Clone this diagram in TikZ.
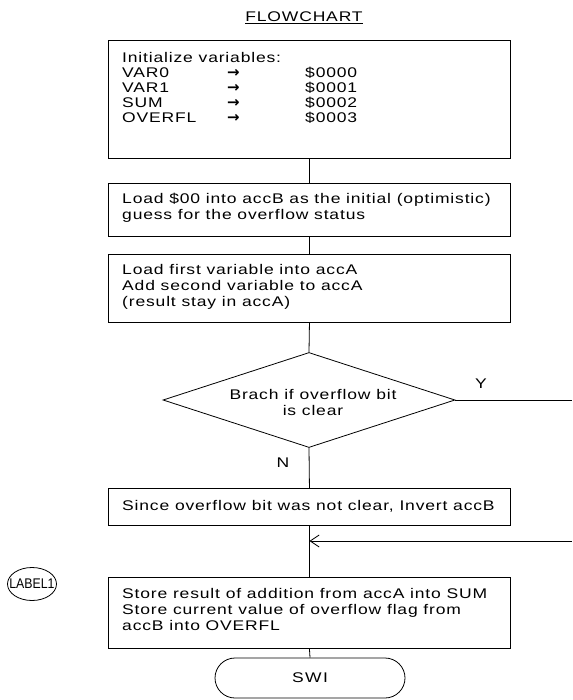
\documentclass[tikz,border=0pt]{standalone}
\usepackage{fontspec}
\setmainfont{Liberation Sans}[FakeStretch=1.25, LetterSpace=6]
\newfontfamily\arrowfont{DejaVu Sans}
\newfontfamily\labelfont{Liberation Sans}[FakeStretch=0.88]
\usetikzlibrary{shapes.geometric,arrows.meta}
\newcommand{\vrow}[2]{\makebox[105pt][l]{#1}\makebox[78pt][l]{\arrowfont\bfseries\fontsize{15}{15}\selectfont →}\$#2}
\begin{document}
\begin{tikzpicture}[x=1pt,y=-1pt,
  box/.style={draw, line width=0.9pt, minimum width=402pt, anchor=north west, inner sep=0pt},
  txt/.style={anchor=north west, inner sep=0pt, align=left, font=\fontsize{14}{16}\selectfont},
  lbl/.style={inner sep=0pt, font=\fontsize{14}{16}\selectfont},
  conn/.style={line width=0.8pt}]
\useasboundingbox (0,0) rectangle (572,700);
% title
\node[lbl] (title) at (304,18) {\underline{FLOWCHART}};
% boxes
\node[box, minimum height=118pt] (b1) at (108,40) {};
\node[box, minimum height=53pt] (b2) at (108,183) {};
\node[box, minimum height=68pt] (b3) at (108,254) {};
\node[box, minimum height=37pt] (b4) at (108,488) {};
\node[box, minimum height=71pt] (b5) at (108,577) {};
% texts
\node[txt, font=\fontsize{14}{15}\selectfont] (t1) at (122,52) {Initialize variables:\\
\vrow{VAR0}{0000}\\
\vrow{VAR1}{0001}\\
\vrow{SUM}{0002}\\
\vrow{OVERFL}{0003}};
\node[txt] (t2) at (122,193) {Load \$00 into accB as the initial (optimistic)\\guess for the overflow status};
\node[txt] (t3) at (122,264) {Load first variable into accA\\Add second variable to accA\\(result stay in accA)};
\node[txt] (t4) at (122,500) {Since overflow bit was not clear, Invert accB};
\node[txt] (t5) at (122,588) {Store result of addition from accA into SUM\\Store current value of overflow flag from\\accB into OVERFL};
% decision
\node[diamond, draw, line width=0.8pt, minimum width=292pt, minimum height=95pt, inner sep=0pt] (d) at (309,400) {};
\node[lbl, align=center] (dt) at (313,402) {Brach if overflow bit\\is clear};
\node[lbl] (y) at (481,384) {Y};
\node[lbl] (n) at (283,463) {N};
% label ellipse
\node[ellipse, draw, line width=0.8pt, minimum width=49pt, minimum height=33pt, inner sep=0pt] (l1) at (32,584) {};
\node[inner sep=0pt, font=\labelfont\fontsize{14}{15}\selectfont] (l1t) at (32,584) {LABEL1};
% terminator
\node[draw, line width=0.8pt, rounded corners=20pt, minimum width=190pt, minimum height=40pt, inner sep=0pt, font=\fontsize{14}{16}\selectfont\addfontfeature{LetterSpace=10}] (swi) at (310,678) {SWI};
% connectors
\coordinate (yend) at (572,400);
\coordinate (rin) at (572,541);
\coordinate (mrg) at (b4.south |- rin);
\draw[conn] (b1.south) -- (b2.north);
\draw[conn] (b2.south) -- (b3.north);
\draw[conn] (b3.south) -- (d.north);
\draw[conn] (d.south) -- (b4.north);
\draw[conn] (d.east) -- (yend);
\draw[conn] (b4.south) -- (b5.north);
\draw[conn] (b5.south) -- (swi.north);
\draw[conn, -{Straight Barb[length=9pt,width=12pt]}] (rin) -- (mrg);
\end{tikzpicture}
\end{document}
